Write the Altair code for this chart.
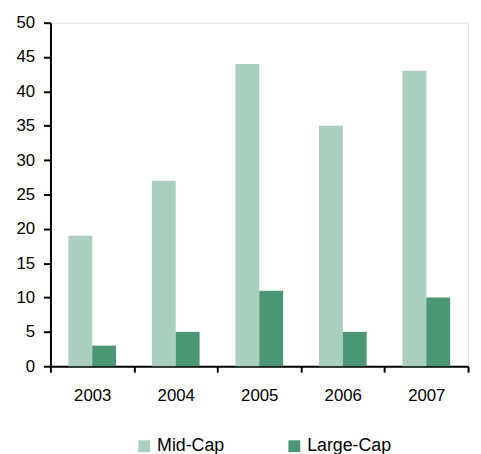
import altair as alt
import pandas as pd

years = ["2003", "2004", "2005", "2006", "2007"]
series = ["Mid-Cap", "Large-Cap"]
mid_cap = [19, 27, 44, 35, 43]
large_cap = [3, 5, 11, 5, 10]
colors = ["#abcfbf", "#4a9675"]
y_ticks = list(range(0, 51, 5))

rows = []
for i, yr in enumerate(years):
    rows.append({"year": yr, "series": "Mid-Cap", "value": mid_cap[i]})
    rows.append({"year": yr, "series": "Large-Cap", "value": large_cap[i]})
df = pd.DataFrame(rows)

FONT = "Liberation Sans"

chart = alt.Chart(df).mark_bar().encode(
    x=alt.X(
        "year:N",
        sort=years,
        scale=alt.Scale(paddingInner=0, paddingOuter=0),
        axis=alt.Axis(
            title=None,
            labelAngle=0,
            tickBand="extent",
            tickSize=6,
            tickWidth=2,
            tickColor="black",
            domainColor="black",
            domainWidth=2,
            labelFont=FONT,
            labelFontSize=17,
            labelColor="black",
            labelPadding=16,
        ),
    ),
    xOffset=alt.XOffset(
        "series:N", sort=series, scale=alt.Scale(paddingInner=0, paddingOuter=0.75)
    ),
    y=alt.Y(
        "value:Q",
        scale=alt.Scale(domain=[0, 50], nice=False),
        axis=alt.Axis(
            title=None,
            values=y_ticks,
            grid=False,
            tickSize=7,
            tickWidth=2,
            tickColor="black",
            domainColor="black",
            domainWidth=2,
            labelFont=FONT,
            labelFontSize=17,
            labelColor="black",
            labelPadding=9,
        ),
    ),
    color=alt.Color(
        "series:N",
        sort=series,
        scale=alt.Scale(domain=series, range=colors),
        legend=alt.Legend(
            title=None,
            orient="none",
            direction="horizontal",
            legendX=86,
            legendY=420,
            symbolType="square",
            symbolSize=144,
            symbolStrokeWidth=0,
            symbolOpacity=1,
            labelFont=FONT,
            labelFontSize=18,
            labelColor="black",
            labelOffset=4,
            columnPadding=61,
        ),
    ),
).properties(
    width=423,
    height=348,
    autosize=alt.AutoSizeParams(type="none"),
    padding={"left": 43, "top": 12, "right": 5, "bottom": 86},
).configure_view(stroke=None).configure(background="white")

chart.save("out.html", embed_options={"renderer": "svg", "actions": False})
